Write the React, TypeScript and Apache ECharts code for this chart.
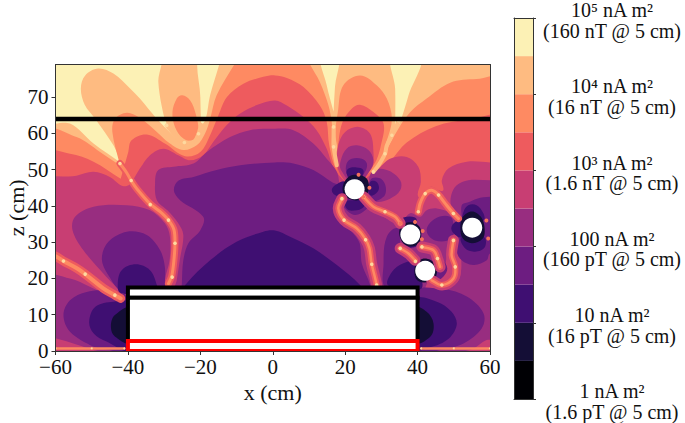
import React, { useEffect, useRef } from "react";
import * as echarts from "echarts";

type Pt = number[];

const levelColors = ["#000004", "#140e36", "#3f0f72", "#6d1d81", "#982d80", "#c83e73", "#ee5b5e", "#fe8a62", "#febb81", "#fcf1b5"];
const colorbarBands = [0, 1, 2, 3, 4, 5, 6, 7, 8, 9];
const colorbarTicks = [0, 2, 4, 6, 8, 10];
const colorbarLabels = [
  "1 nA m²\n(1.6 pT @ 5 cm)",
  "10 nA m²\n(16 pT @ 5 cm)",
  "100 nA m²\n(160 pT @ 5 cm)",
  "10³ nA m²\n(1.6 nT @ 5 cm)",
  "10⁴ nA m²\n(16 nT @ 5 cm)",
  "10⁵ nA m²\n(160 nT @ 5 cm)",
];
const zTicks = [0, 10, 20, 30, 40, 50, 60, 70];

const backdrop: Pt[][] = [[[-64, -3], [64, -3], [64, 83], [-64, 83]]];

const cream: Pt[][] = [
  [[-64, 83], [-31.6, 83], [-31.6, 74.2], [-30.7, 67.7], [-29.3, 62.7], [-26, 58], [-26, 58], [-32, 64], [-36.7, 69.6], [-39.4, 72.4], [-44, 76.5], [-48.2, 77.9], [-51.8, 76], [-53, 72.4], [-51.9, 67.8], [-49, 64], [-44, 56.7], [-41.7, 51.7], [-41.7, 51.7], [-49.5, 57.2], [-56, 62.7], [-64, 63.6]],
  [[-20.1, 83], [-20, 70], [-19.8, 62], [-19.8, 62], [-18.5, 64], [-17.3, 70.5], [-14.5, 80], [-14, 83]],
  [[13.2, 83], [14.9, 73.3], [16.8, 66], [16.8, 66], [17.2, 73], [18.1, 83]],
  [[33, 83], [33.8, 72.4], [33.8, 60.9], [33.8, 60.9], [35.2, 63.2], [37.5, 70.5], [41, 83]],
];

const orange: Pt[][] = [
  [[-27.7, 65.9], [-26.5, 69.6], [-25, 70.5], [-22.8, 69.1], [-21.3, 65.5], [-20.5, 60.4], [-21.9, 58], [-24.7, 58.6], [-27, 61.8]],
  [[-64, 60.6], [-54.2, 59], [-47.7, 54.9], [-42.2, 51.2], [-42.2, 51.2], [-44.3, 60.4], [-43.6, 64], [-40.3, 65.7], [-37.1, 64.5], [-33, 61.3], [-28.4, 57.2], [-24.7, 55.4], [-21, 56.7], [-18.7, 60], [-17.3, 64], [-15.5, 70.5], [-10, 80], [-8, 83], [9, 83], [9.8, 80], [13, 74.2], [15.4, 67.7], [16.3, 63], [16.7, 56.7], [18, 50], [22, 47], [27.8, 50.3], [30.6, 54], [34.7, 61.3], [38, 65.9], [42.5, 69.6], [49, 74], [56.3, 75], [64, 75], [64, -3], [-64, -3]],
  [[17.5, 58], [18.1, 66.8], [19.5, 73.3], [24.1, 76], [28.7, 73.3], [31.5, 69.6], [32.9, 64], [31.5, 58], [28.7, 50.3], [22, 47]],
];

const red: Pt[][] = [
  [[-64, 54.4], [-56, 54.4], [-49.5, 52.2], [-42, 47.5], [-42, 47.5], [-39.9, 54.9], [-39, 58.1], [-34.8, 59.7], [-29.8, 57.2], [-24.2, 53.7], [-20, 54.9], [-17.3, 59.5], [-15, 65], [-12.7, 70], [-8.1, 73.7], [-2.6, 75.6], [0.6, 76], [3.9, 75.3], [8.5, 72.8], [13, 67.7], [14.9, 63.2], [15.6, 56.7], [17.7, 49.9], [22, 47], [28, 50], [32, 52], [37, 57.5], [45, 62], [54.5, 63.8], [64, 64], [64, -3], [-64, -3]],
  [[17.7, 50], [18.2, 58], [19.3, 63.2], [21.8, 66.8], [24.1, 67.9], [27.8, 65.9], [30.6, 62.7], [30.1, 57.7], [27.8, 51.2], [22, 47]],
];

const pink: Pt[][] = [
  [[-64, 46.2], [-54.2, 48.3], [-49.5, 49.4], [-45, 48], [-41.5, 45.5], [-39.5, 46], [-36.7, 50.3], [-33.9, 54], [-30.2, 55.8], [-26.1, 54], [-22.8, 52.6], [-19.2, 54], [-16.4, 57.7], [-12.7, 62.3], [-9, 65.5], [-4.4, 67.8], [0.6, 69.1], [3.9, 67.7], [8.5, 64.5], [12.1, 60.9], [14.9, 55.8], [17.2, 49.9], [22, 46], [28.7, 49.9], [32.4, 53], [37, 53.5], [40.2, 50.8], [40.9, 46.6], [40.2, 42.5], [42.1, 44.3], [43.9, 45.3], [45.8, 44.3], [47.1, 44.3], [46.7, 47.1], [48.5, 50.3], [53.6, 52.2], [60, 52], [64, 51.5], [64, -3], [-64, -3]],
  [[18.1, 50], [18.1, 56.7], [20, 60.4], [23.7, 61.8], [26.9, 59.9], [27.8, 54.9], [27.3, 50.3], [22, 46]],
];

const magenta: Pt[][] = [
  [[-27, 16], [-26.5, 19.6], [-25.6, 25.5], [-24.7, 32], [-26.1, 35.2], [-29.1, 38.8], [-32, 41.6], [-32.5, 46.2], [-31.6, 49.9], [-27.4, 50.8], [-21.9, 51.7], [-18.2, 54.9], [-11.8, 59], [-6.3, 60.9], [0.6, 61.3], [5.7, 60.9], [11.2, 57.2], [14.9, 53], [17.7, 49.4], [19, 44], [22, 41], [26.9, 38.8], [30.6, 37], [33.8, 35.2], [36, 36], [38, 38], [40.7, 37], [42.5, 38.8], [45.3, 39.3], [49.4, 37.9], [50.5, 36.5], [50, 33], [49, 30], [48, 26], [47.5, 22], [46, 19.5], [43, 19], [41, 16]],
  [[-55.3, 33.3], [-54.6, 37], [-49.5, 39.8], [-40.3, 40.2], [-33.9, 38.8], [-29.8, 35.2], [-28.4, 31.5], [-28.5, 25], [-29.8, 19.6], [-29.8, 16], [-41, 16], [-43, 17.5], [-46, 20.5], [-52.3, 27.8]],
  [[-64, 20.2], [-56, 20], [-50.5, 17.7], [-43.1, 14], [-39, 13], [-39, -1], [-49.5, 0.3], [-54, 1.7], [-60, 3.5], [-64, 4]],
  [[18.8, 50], [18.8, 52.6], [20.4, 55.8], [23.2, 56.7], [26.4, 55.4], [27.8, 52.6], [26.9, 49.9], [23, 46]],
  [[27.3, 49.4], [31.5, 49.9], [35.2, 47.1], [35.2, 44.3], [32.4, 42], [28.7, 41.1], [26.9, 42.5]],
  [[39, 17], [46, 16.5], [48, 17.5], [51, 19], [52, 22], [52, 26], [51.5, 30], [52, 36], [49.3, 40], [49.3, 43], [50.8, 45.7], [54, 47.1], [60, 47.1], [64, 47], [64, 3.5], [59.1, 3], [54.5, 0.3], [39, -1]],
];

const purple: Pt[][] = [
  [[-27.3, 44.3], [-26, 47], [-21.9, 48], [-15.5, 49.9], [-9, 51.2], [0.6, 52], [5.7, 51.7], [11.2, 49.9], [16.3, 46.6], [18.8, 45], [16.8, 39.8], [17.2, 37], [21.8, 32.9], [24, 29.7], [24.6, 24.1], [26.9, 18.2], [26.9, 16], [-25.1, 16], [-25.1, 18.5], [-24.7, 25], [-23.3, 29.7], [-20, 33.3], [-19.2, 37], [-25.6, 41.6]],
  [[-47.2, 25.5], [-45.4, 30.1], [-40.3, 32.9], [-34.8, 32], [-31.1, 27.8], [-29.8, 23.2], [-29.8, 18.6], [-30, 16], [-41, 16], [-45.4, 20.9]],
  [[-57.8, 9.9], [-56, 14], [-51.4, 16.3], [-45.9, 16.6], [-39, 14], [-39, -1], [-45, 0.3], [-49.5, 1.2], [-56, 5.3]],
  [[39, 16], [47.1, 17], [53.6, 15], [58.2, 10.4], [57.7, 6.2], [52.7, 2.1], [46.2, 0.3], [39, -1]],
  [[20.4, 49], [20.4, 51.7], [21.8, 53], [24.6, 53], [26, 51.7], [25.5, 49.4], [22.6, 46]],
  [[26.9, 47.1], [29.6, 47.6], [31.2, 45.3], [30.6, 42.5], [26.9, 41.6]],
  [[19.5, 41.6], [20, 39.3], [22.7, 37.5], [25.5, 38.8], [26.9, 41.1], [22.6, 43]],
  [[42.5, 33.3], [44.8, 36.5], [49, 37], [49.9, 34.2], [49.4, 31], [44.8, 30.5]],
  [[52.2, 36], [52.2, 40.2], [54, 41], [56.4, 42], [60, 42.5], [64, 42.5], [64, 27], [60, 26.9], [59.1, 25], [55.4, 23.7], [51.7, 25.5], [50.4, 29.7], [51, 32]],
  [[31.5, 31.5], [34.7, 33.8], [35.2, 29.7], [35.6, 26.4], [39.3, 24.6], [40.7, 21.4], [40.7, 17], [31.5, 17], [30.6, 24.1]],
  [[44.8, 24.6], [46.7, 25], [48.2, 22.8], [47.1, 20.5], [44.8, 19.6]],
];

const deep: Pt[][] = [
  [[-23.8, 18.6], [-17.3, 25], [-10, 30.1], [-2.6, 32.9], [0.6, 33.2], [4.8, 31.5], [11.2, 28.3], [17.7, 23.7], [24.1, 18.2], [25, 16], [-25, 16]],
  [[-42.8, 18.6], [-41.7, 22.3], [-37.8, 23.9], [-33.9, 22.3], [-32, 18.2], [-32, 16], [-42, 16]],
  [[-50.7, 8.1], [-49, 12.2], [-44, 13.6], [-39, 13.1], [-39, 0.5], [-45.9, 2.6], [-49.5, 4.9]],
  [[39, 14], [45.3, 13.6], [49.4, 10.8], [50.8, 7.2], [48.1, 3], [42.5, 0.7], [39, 0.5]],
  [[32, 18], [32.9, 21.8], [36.1, 24.2], [39.3, 24.6], [40.7, 21.4], [40.7, 17]],
  [[20.4, 48.9], [20.9, 50.3], [23.2, 50.6], [25, 49.9], [24.6, 48], [22.6, 46]],
  [[26.9, 46.6], [28.7, 46.6], [29.2, 44.3], [26.9, 43]],
  [[16.3, 44.3], [17.2, 45.7], [20, 46.6], [20, 42.5], [17.2, 43]],
  [[20, 41.1], [21.8, 41.6], [25.5, 41.1], [24.6, 39.3], [21.8, 38.7], [20.4, 39.3]],
  [[52.7, 38.4], [54, 40.2], [56.3, 40.2], [58.2, 37.9], [58.2, 36], [52.7, 36]],
  [[52.2, 31.5], [53.1, 28.3], [55.9, 27.4], [58.6, 28.7], [58.2, 31.5]],
  [[49.3, 33.8], [50.4, 35.6], [52.2, 35.6], [52.2, 31.5], [50.4, 32]],
  [[35.6, 35.6], [36.1, 36.8], [39.3, 36.8], [39.8, 35.2], [38, 33]],
  [[36.1, 29.7], [37.9, 28.5], [39.8, 29.2], [38, 31]],
];

const dark: Pt[][] = [
  [[-44.7, 6.7], [-43.6, 9.9], [-39, 11.7], [-39, 2.4], [-43.6, 4]],
  [[39, 11.9], [42.5, 10.8], [44.4, 7.6], [43.5, 3.9], [39, 2.4]],
  [[19.5, 46], [22, 48.5], [26, 47.5], [26, 43], [23, 41.5], [19.8, 43]],
  [[52.5, 37], [55, 38.5], [57.5, 37], [58.5, 34], [58, 31], [55, 29.7], [52.5, 31], [51.8, 34]],
  [[35.2, 34], [38, 35.5], [40.7, 34], [40.5, 30], [38, 28.8], [35.5, 30.5]],
  [[39.5, 24], [42, 25.5], [44.8, 24], [45, 20.5], [42, 18.9], [39.5, 20]],
];

const contourLayers: [number, Pt[][]][] = [
  [8, backdrop], [9, cream], [7, orange], [6, red], [5, pink], [4, magenta], [3, purple], [2, deep], [1, dark],
];
const contourRegions = contourLayers.flatMap(([lvl, polys]) => polys.map((p) => ({ lvl, p })));

const ridgeU: Pt[] = [[-29.3, 62.2], [-26, 58.4], [-24.4, 57.5], [-21.7, 57.8], [-20.5, 59.9], [-19.8, 62.4]];
const ridgeN4: Pt[] = [[16.8, 61.8], [16.8, 59.5], [16.8, 56.3], [17.7, 51.2]];
const ridgeN5: Pt[] = [[34.7, 63.6], [34.1, 61.8], [32.9, 59.5], [31.5, 56.7], [31, 54.4], [29.2, 51.2], [27.8, 49.4]];
const ridgeN2: Pt[] = [[-42.2, 51.7], [-40.5, 49.4], [-39.1, 47], [-37.6, 44.8], [-33.9, 40.6], [-31.1, 38.4], [-28.8, 36.1], [-27.3, 33.5], [-27, 29.7], [-27.3, 25], [-27.9, 20.7], [-28.8, 18.6]];
const ridgeN1: Pt[] = [[-61, 26.6], [-59.7, 26], [-57.8, 24.8], [-54.1, 22.8], [-51.8, 21.2], [-46.8, 17.3], [-43.6, 15.4], [-42, 14.5]];
const ridgeN6: Pt[] = [[19.1, 42], [18.1, 39.3], [19.7, 36.1], [23.2, 33.8], [25.5, 31], [26.7, 28.3], [27.3, 24.1], [28.3, 20], [28.7, 18.2]];
const ridgeN7: Pt[] = [[25.1, 42.5], [27.8, 39.8], [31, 38.4], [33.8, 37], [35.2, 35.2]];
const ridgeN8: Pt[] = [[40.2, 38.4], [40.7, 40.7], [42.1, 43.4], [43.9, 44.3], [45.8, 43], [47.6, 40.7], [49.9, 37.9], [51.3, 36.5]];
const ridgeN9: Pt[] = [[35.2, 28.3], [37.5, 26.9], [39.3, 25]];
const ridgeN9b: Pt[] = [[41.2, 28.7], [44.4, 27.8], [45.5, 25.5], [46.2, 23.2]];
const ridgeN10: Pt[] = [[49.9, 30.5], [49.4, 26.4], [50.4, 23.2], [49.9, 20], [46.7, 18.2], [43.9, 19.5]];
const ridgeFloorLeft: Pt[] = [[-60, 0.7], [-55, 0.7], [-50, 0.7], [-45, 0.7], [-41, 0.7]];
const ridgeFloorRight: Pt[] = [[41, 0.7], [45, 0.7], [50, 0.7], [55, 0.7], [60, 0.7]];

const ridgeSets: [string, Pt[]][] = [
  ["top", ridgeU], ["top", ridgeN4], ["top", ridgeN5],
  ["mid", ridgeN2], ["wide", ridgeN1],
  ["low", ridgeN6], ["low", ridgeN7], ["mid", ridgeN8], ["low", ridgeN9], ["low", ridgeN9b], ["low", ridgeN10],
  ["floor", ridgeFloorLeft], ["floor", ridgeFloorRight],
];

const hotSpots: Pt[] = [[23.7, 48.6], [26.7, 45], [25, 42.5], [39.3, 35.6], [41.4, 33.1], [41.2, 30.8], [35.2, 35.2], [59, 36], [59.5, 31]];
const magnets: Pt[] = [[22.6, 44.6], [38, 32.1], [42.1, 22.1], [55.1, 34]];
const sensorLine: Pt[] = [[-60, 64], [60, 64]];
const coilBoxes = [
  { x0: -40, x1: 40, z0: 14.7, z1: 17.5, color: "#000000" },
  { x0: -40, x1: 40, z0: 2.75, z1: 14.7, color: "#000000" },
  { x0: -40, x1: 40, z0: 0, z1: 2.75, color: "#ff0000" },
];

function smoothPath(p: Pt[], closed: boolean): string {
  const n = p.length;
  const get = (i: number) => (closed ? p[(i + n) % n] : p[Math.max(0, Math.min(n - 1, i))]);
  const dir = (i: number) => {
    const a = get(i - 1), b = get(i + 1);
    const dx = b[0] - a[0], dy = b[1] - a[1];
    const l = Math.hypot(dx, dy) || 1;
    return [dx / l, dy / l];
  };
  let d = `M${p[0][0]} ${p[0][1]}`;
  const segs = closed ? n : n - 1;
  for (let i = 0; i < segs; i++) {
    const a = get(i), b = get(i + 1);
    const len = Math.hypot(b[0] - a[0], b[1] - a[1]) * 0.33;
    const t0 = dir(i), t1 = dir(i + 1);
    d += `C${a[0] + t0[0] * len} ${a[1] + t0[1] * len} ${b[0] - t1[0] * len} ${b[1] - t1[1] * len} ${b[0]} ${b[1]}`;
  }
  return closed ? d + "Z" : d;
}

const stroke = (d: string, color: string, lineWidth: number) => ({
  type: "path",
  shape: { pathData: d },
  style: { fill: "none", stroke: color, lineWidth, lineCap: "round", lineJoin: "round" },
});

const ridgeStyle: Record<string, [string, number][]> = {
  top: [["#febb81", 4]],
  mid: [["#ee5b5e", 7], ["#fe8a62", 3]],
  wide: [["#ee5b5e", 9], ["#fe8a62", 4]],
  low: [["#c83e73", 11], ["#ee5b5e", 6], ["#fe8a62", 2.5]],
  floor: [["#fe8a62", 2.5]],
};

const FONT = "'Liberation Serif', serif";
const INK = "#111111";
const FRAME = "#333333";

export default function App() {
  const ref = useRef<HTMLDivElement>(null);
  useEffect(() => {
    document.body.style.margin = "0";
    const chart = echarts.init(ref.current!, undefined, { renderer: "svg" });
    const plotAxis = { min: -60, max: 60, interval: 20 };
    const zAxis = { min: 0, max: 79, interval: 10 };
    const line = { show: true, onZero: false, lineStyle: { color: FRAME, width: 1 } };
    const fmt = (v: number) => (v < 0 ? "−" + Math.abs(v) : String(v));
    chart.setOption({
      animation: false,
      backgroundColor: "#ffffff",
      textStyle: { fontFamily: FONT },
      grid: [
        { left: 55.5, top: 64.5, width: 434.5, height: 286.5, outerBoundsMode: "none" },
        { left: 514, top: 18, width: 19, height: 381, outerBoundsMode: "none" },
      ],
      xAxis: [
        {
          type: "value", gridIndex: 0, position: "bottom", ...plotAxis, z: 10,
          axisLine: line, splitLine: { show: false },
          axisTick: { length: 4, lineStyle: { color: FRAME } },
          axisLabel: { formatter: fmt, fontSize: 21, lineHeight: 16, fontFamily: FONT, color: INK, margin: 8 },
          name: "x (cm)", nameLocation: "middle", nameGap: 30, nameMoveOverlap: false,
          nameTextStyle: { fontSize: 22, fontFamily: FONT, color: INK },
        },
        { type: "value", gridIndex: 0, position: "top", ...plotAxis, z: 10, axisLine: line, axisTick: { show: false }, axisLabel: { show: false }, splitLine: { show: false } },
        { type: "value", gridIndex: 1, position: "bottom", min: 0, max: 1, z: 10, axisLine: line, axisTick: { show: false }, axisLabel: { show: false }, splitLine: { show: false } },
        { type: "value", gridIndex: 1, position: "top", min: 0, max: 1, z: 10, axisLine: line, axisTick: { show: false }, axisLabel: { show: false }, splitLine: { show: false } },
      ],
      yAxis: [
        {
          type: "value", gridIndex: 0, position: "left", ...zAxis, z: 10,
          axisLine: line, splitLine: { show: false },
          axisTick: { length: 4, lineStyle: { color: FRAME }, customValues: zTicks },
          axisLabel: { fontSize: 21, lineHeight: 16, fontFamily: FONT, color: INK, margin: 7, customValues: zTicks },
          name: "z (cm)", nameLocation: "middle", nameGap: 28, nameMoveOverlap: false,
          nameTextStyle: { fontSize: 22, fontFamily: FONT, color: INK },
        },
        { type: "value", gridIndex: 0, position: "right", ...zAxis, z: 10, axisLine: line, axisTick: { show: false }, axisLabel: { show: false }, splitLine: { show: false } },
        { type: "value", gridIndex: 1, position: "left", min: 0, max: 10, interval: 2, z: 10, axisLine: line, axisTick: { show: false }, axisLabel: { show: false }, splitLine: { show: false } },
        {
          type: "value", gridIndex: 1, position: "right", min: 0, max: 10, interval: 2, z: 10,
          axisLine: line, splitLine: { show: false },
          axisTick: { length: 3, lineStyle: { color: FRAME } },
          axisLabel: { show: false },
        },
      ],
      series: [
        {
          type: "custom", xAxisIndex: 0, yAxisIndex: 0, clip: true, z: 2, silent: true,
          data: contourRegions.map((_, i) => [i]),
          renderItem: (params: any, api: any) => {
            const r = contourRegions[params.dataIndex];
            const pts = r.p.map((q) => api.coord(q));
            return { type: "path", shape: { pathData: smoothPath(pts, true) }, style: { fill: levelColors[r.lvl], stroke: "none" } };
          },
        },
        {
          type: "custom", xAxisIndex: 0, yAxisIndex: 0, clip: true, z: 3, silent: true,
          data: ridgeSets.map((_, i) => [i]),
          renderItem: (params: any, api: any) => {
            const [kind, raw] = ridgeSets[params.dataIndex];
            const pts = raw.map((q) => api.coord(q));
            const d = smoothPath(pts, false);
            const children: any[] = ridgeStyle[kind].map(([c, w]) => stroke(d, c, w));
            pts.filter((_, i) => i % 2 === 0).forEach((q) => children.push({ type: "circle", shape: { cx: q[0], cy: q[1], r: kind === "floor" ? 1 : 1.8 }, style: { fill: "#fdd9a0" } }));
            return { type: "group", children };
          },
        },
        {
          type: "scatter", xAxisIndex: 0, yAxisIndex: 0, z: 4, silent: true, symbolSize: 4,
          itemStyle: { color: "#f4705c", opacity: 1 }, data: hotSpots,
        },
        {
          type: "line", xAxisIndex: 0, yAxisIndex: 0, z: 5, silent: true, symbol: "none", data: sensorLine,
          lineStyle: { color: "#000000", width: 4.5, cap: "butt" },
        },
        {
          type: "custom", xAxisIndex: 0, yAxisIndex: 0, clip: true, z: 6, silent: true,
          data: coilBoxes.map((_, i) => [i]),
          renderItem: (params: any, api: any) => {
            const b = coilBoxes[params.dataIndex];
            const a = api.coord([b.x0, b.z1]);
            const c = api.coord([b.x1, b.z0]);
            return {
              type: "rect",
              shape: { x: a[0], y: a[1], width: c[0] - a[0], height: c[1] - a[1] },
              style: { fill: "#ffffff", stroke: b.color, lineWidth: 4 },
            };
          },
        },
        {
          type: "scatter", xAxisIndex: 0, yAxisIndex: 0, z: 7, silent: true, symbolSize: 20,
          itemStyle: { color: "#ffffff", opacity: 1 }, data: magnets,
        },
        {
          type: "custom", xAxisIndex: 2, yAxisIndex: 2, z: 2, silent: true,
          data: colorbarBands.map((i) => [i]),
          renderItem: (params: any, api: any) => {
            const i = colorbarBands[params.dataIndex];
            const a = api.coord([0, i + 1]);
            const c = api.coord([1, i]);
            return { type: "rect", shape: { x: a[0], y: a[1], width: c[0] - a[0], height: c[1] - a[1] }, style: { fill: levelColors[i], stroke: "none" } };
          },
        },
        {
          type: "custom", xAxisIndex: 2, yAxisIndex: 2, z: 3, silent: true, clip: false,
          data: colorbarTicks.map((v) => [v]),
          renderItem: (params: any, api: any) => {
            const i = params.dataIndex;
            const p = api.coord([1, colorbarTicks[i]]);
            return {
              type: "text",
              x: p[0] + 79,
              y: p[1] + 2.5,
              style: { text: colorbarLabels[i], x: 0, y: 0, align: "center", verticalAlign: "middle", fontSize: 20, lineHeight: 20.5, fontFamily: FONT, fill: INK },
            };
          },
        },
      ],
    });
    return () => chart.dispose();
  }, []);
  return <div ref={ref} style={{ width: 685, height: 423 }} />;
}
